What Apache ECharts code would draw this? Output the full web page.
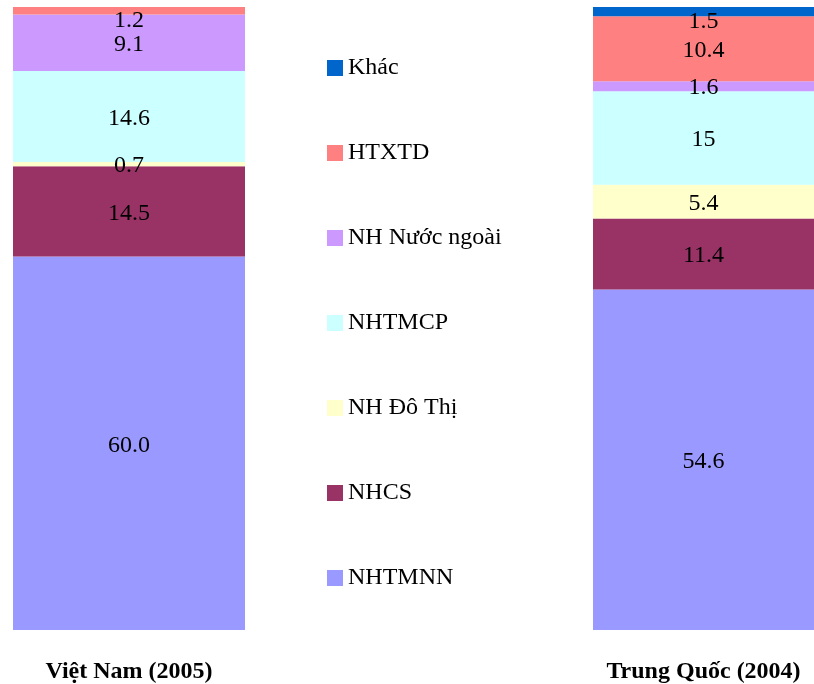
<!DOCTYPE html>
<html>
<head>
<meta charset="utf-8">
<script src="https://cdn.jsdelivr.net/npm/echarts@6/dist/echarts.min.js"></script>
<style>
  html, body { margin: 0; padding: 0; background: #fff; }
  #chart { width: 814px; height: 684px; }
</style>
</head>
<body>
<div id="chart"></div>
<script>
// Market share of bank types (%), two countries, stacked bottom to top
const countries = ['Việt Nam (2005)', 'Trung Quốc (2004)'];
const seriesNames = ['NHTMNN', 'NHCS', 'NH Đô Thị', 'NHTMCP', 'NH Nước ngoài', 'HTXTD', 'Khác'];
// Values per country in the same order as seriesNames (null = not present)
const vietNam = [60.0, 14.5, 0.7, 14.6, 9.1, 1.2, null];
const trungQuoc = [54.6, 11.4, 5.4, 15, 1.6, 10.4, 1.5];
const colors = ['#9999FF', '#993366', '#FFFFCC', '#CCFFFF', '#CC99FF', '#FF8080', '#0066CC'];
const legendOrder = ['Khác', 'HTXTD', 'NH Nước ngoài', 'NHTMCP', 'NH Đô Thị', 'NHCS', 'NHTMNN'];

const serif = '"Liberation Serif", "Times New Roman", serif';
const columns = [vietNam, trungQuoc];
const total = arr => arr.reduce((s, v) => s + (v == null ? 0 : v), 0);

const series = [];
columns.forEach((vals, gi) => {
  // topmost non-empty segment gets its label nudged down into view
  let topIdx = -1;
  vals.forEach((v, i) => { if (v != null) topIdx = i; });
  seriesNames.forEach((name, i) => {
    series.push({
      name: name,
      type: 'bar',
      stack: 'g' + gi,
      xAxisIndex: gi,
      yAxisIndex: gi,
      barWidth: '100%',
      itemStyle: { color: colors[i] },
      label: {
        show: vals[i] != null,
        position: 'inside',
        color: '#000',
        fontFamily: serif,
        fontSize: 24,
        offset: i === topIdx ? [0, 10] : [0, 2],
        formatter: p => gi === 0 ? Number(p.value).toFixed(1) : String(p.value)
      },
      data: [vals[i] == null ? '-' : vals[i]]
    });
  });
});

const chart = echarts.init(document.getElementById('chart'));
chart.setOption({
  animation: false,
  legend: {
    orient: 'vertical',
    left: 322,
    top: 50,
    data: legendOrder,
    icon: 'rect',
    itemWidth: 16,
    itemHeight: 16,
    itemGap: 59,
    textStyle: { fontFamily: serif, fontSize: 24, color: '#000', lineHeight: 26 }
  },
  grid: [
    { left: 13, top: 7, width: 232, height: 624 },
    { left: 593, top: 7, width: 221, height: 624 }
  ],
  xAxis: columns.map((vals, gi) => ({
    type: 'category',
    gridIndex: gi,
    data: [countries[gi]],
    axisLine: { show: false },
    axisTick: { show: false },
    axisLabel: {
      margin: 30,
      color: '#000',
      fontFamily: serif,
      fontSize: 24,
      fontWeight: 'bold'
    }
  })),
  yAxis: columns.map((vals, gi) => ({
    type: 'value',
    gridIndex: gi,
    min: 0,
    max: total(vals),
    show: false,
    splitLine: { show: false }
  })),
  series: series
});
</script>
</body>
</html>
